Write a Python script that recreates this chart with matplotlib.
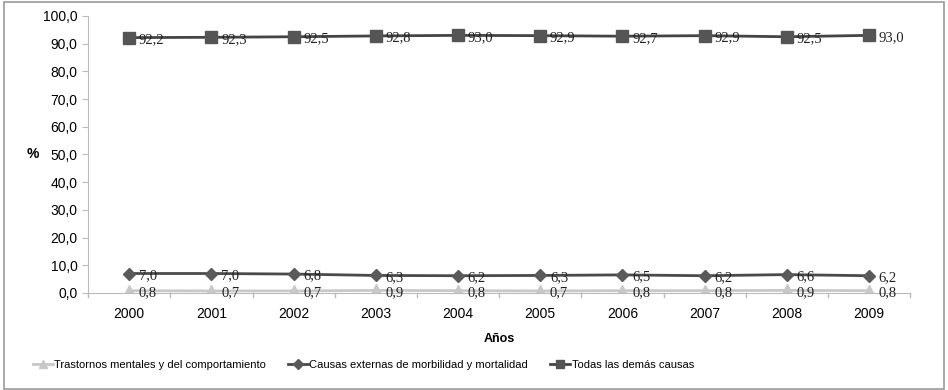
import matplotlib
matplotlib.use("Agg")
import matplotlib.pyplot as plt
from matplotlib.patches import Rectangle
from matplotlib.ticker import FuncFormatter, FixedLocator

years = ["2000", "2001", "2002", "2003", "2004", "2005", "2006", "2007", "2008", "2009"]
trastornos = [0.8, 0.7, 0.7, 0.9, 0.8, 0.7, 0.8, 0.8, 0.9, 0.8]
externas = [7.0, 7.0, 6.8, 6.3, 6.2, 6.3, 6.5, 6.2, 6.6, 6.2]
demas = [92.2, 92.3, 92.5, 92.8, 93.0, 92.9, 92.7, 92.9, 92.5, 93.0]

plt.rcParams['font.family'] = ['Liberation Sans', 'DejaVu Sans']

fig = plt.figure(figsize=(9.48, 3.90), dpi=100)
ax = fig.add_axes([0.093, 0.249, 0.867, 0.710])

x = list(range(len(years)))
series = [
    (trastornos, "Trastornos mentales y del comportamiento", "^", "#c8c8c8", "#c8c8c8", 8),
    (externas, "Causas externas de morbilidad y mortalidad", "D", "#5a5a5a", "#4a4a4a", 6),
    (demas, "Todas las demás causas", "s", "#555555", "#444444", 8),
]
for vals, name, mk, mc, lc, ms in series:
    ax.plot(x, vals, color=lc, lw=2, marker=mk, markersize=ms,
            markerfacecolor=mc, markeredgecolor=mc, label=name)
    for xi, v in zip(x, vals):
        ax.annotate(f"{v:.1f}".replace(".", ","), (xi, v), xytext=(7, -1.5),
                    textcoords="offset points", ha="left", va="center",
                    fontsize=10.5, family="Liberation Serif", color="#222222")

ax.set_xlim(-0.5, len(years) - 0.5)
ax.set_ylim(0, 100)
ax.set_yticks(range(0, 101, 10))
ax.yaxis.set_major_formatter(FuncFormatter(lambda v, p: f"{v:.1f}".replace(".", ",")))
ax.set_xticks(x)
ax.set_xticklabels(years)
ax.xaxis.set_major_locator(FixedLocator(x))
ax.tick_params(axis="x", length=0, labelsize=10, pad=10)
ax.tick_params(axis="y", length=4, labelsize=10, color="#bbbbbb", direction="out")
for xb in range(len(years) + 1):
    ax.plot([xb - 0.5, xb - 0.5], [0, -1.5], color="#bbbbbb", lw=1, clip_on=False)
for s in ["top", "right"]:
    ax.spines[s].set_visible(False)
ax.spines["left"].set_color("#bbbbbb")
ax.spines["bottom"].set_color("#bbbbbb")

ax.set_xlabel("Años", fontweight="bold", fontsize=9, labelpad=9)
fig.text(0.035, 0.605, "%", fontweight="bold", fontsize=10, ha="center", va="center")

fig.legend(loc="center left", bbox_to_anchor=(0.035, 0.064), ncol=3, frameon=False,
           fontsize=8, handlelength=1.8, handletextpad=0.1, columnspacing=2.0,
           markerscale=0.8, borderaxespad=0, borderpad=0)

fig.patches.append(Rectangle((0.004, 0.003), 0.992, 0.992, transform=fig.transFigure,
                             fill=False, edgecolor="#999999", lw=1.2))

fig.savefig("out.png", dpi=100)
